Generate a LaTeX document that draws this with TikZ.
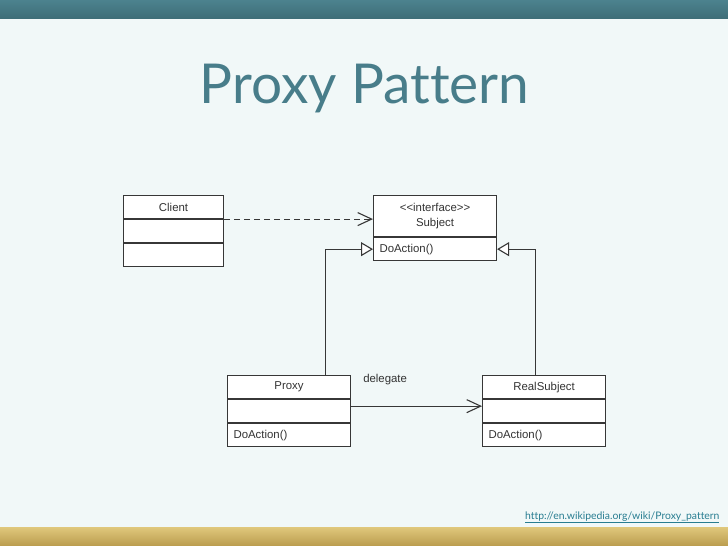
\documentclass[tikz,border=0pt]{standalone}
\usepackage{fontspec}
\setmainfont{Liberation Sans}
\newfontfamily\titlefont{Lato}[Ligatures=NoCommon]
\usetikzlibrary{arrows.meta}
\definecolor{slidebg}{RGB}{241,248,248}
\definecolor{slideteal}{RGB}{72,125,138}
\definecolor{bartop}{RGB}{76,130,142}
\definecolor{barbottom}{RGB}{62,110,120}
\definecolor{goldtop}{RGB}{224,200,124}
\definecolor{goldbottom}{RGB}{186,156,78}
\definecolor{umlline}{RGB}{55,55,55}
\definecolor{linkteal}{RGB}{40,125,145}

\begin{document}
\begin{tikzpicture}[x=1pt, y=-1pt,
  classrow/.style={draw=umlline, fill=white, line width=1.1pt, inner sep=0pt,
    minimum height=23pt, minimum width=#1, anchor=north west,
    font=\fontsize{11.4}{14.5}\selectfont, text=black!80},
  oprow/.style={classrow=123pt, text width=111pt, align=left},
  umlarrow/.style={umlline, line width=1.1pt},
  openhead/.style={-{Straight Barb[length=14pt, width=13pt]}},
  inherit/.style={-{Triangle[length=12pt, width=14pt, fill=white]}}]
\fill[slidebg] (0,0) rectangle (728,546);
\shade[top color=bartop, bottom color=barbottom] (0,0) rectangle (728,18);
\shade[top color=goldtop, bottom color=goldbottom] (0,527) rectangle (728,546);

\node[anchor=base, text=slideteal, font=\titlefont\fontsize{55}{60}\selectfont] (title) at (364.5,103) {Proxy Pattern};

\node[classrow=100pt] (clienthead) at (123,195) {Client};
\node[classrow=100pt] (clientattr) at (clienthead.south west) {};
\node[classrow=100pt] (clientops) at (clientattr.south west) {};

\node[classrow=123pt, minimum height=41pt, align=center] (subjecthead) at (373,195) {{<}{<}interface{>}{>}\\Subject};
\node[oprow] (subjectops) at (subjecthead.south west) {DoAction()};

\node[classrow=123pt] (proxyhead) at (227,375) {Proxy};
\node[classrow=123pt] (proxyattr) at (proxyhead.south west) {};
\node[oprow] (proxyops) at (proxyattr.south west) {DoAction()};

\node[classrow=123pt] (realhead) at (482,375) {RealSubject};
\node[classrow=123pt] (realattr) at (realhead.south west) {};
\node[oprow] (realops) at (realattr.south west) {DoAction()};

\draw[umlarrow, openhead, dash pattern=on 6pt off 4pt] (clienthead.south east) -- (clienthead.south east -| subjecthead.west);
\draw[umlarrow, inherit] ([xshift=36pt]proxyhead.north) |- (subjectops.west);
\draw[umlarrow, inherit] ([xshift=-9pt]realhead.north) |- (subjectops.east);
\draw[umlarrow, openhead] ([yshift=5pt]proxyattr.east) -- ([yshift=5pt]realattr.west)
  node[pos=0.26, yshift=27pt, text=black!80, font=\fontsize{11.4}{14.5}\selectfont] (delegatelabel) {delegate};

\node[anchor=base east, text=linkteal, font=\titlefont\fontsize{10.4}{12}\selectfont] (wikilink) at (723,519) {\underline{http://en.wikipedia.org/wiki/Proxy\_pattern}};
\end{tikzpicture}
\end{document}
